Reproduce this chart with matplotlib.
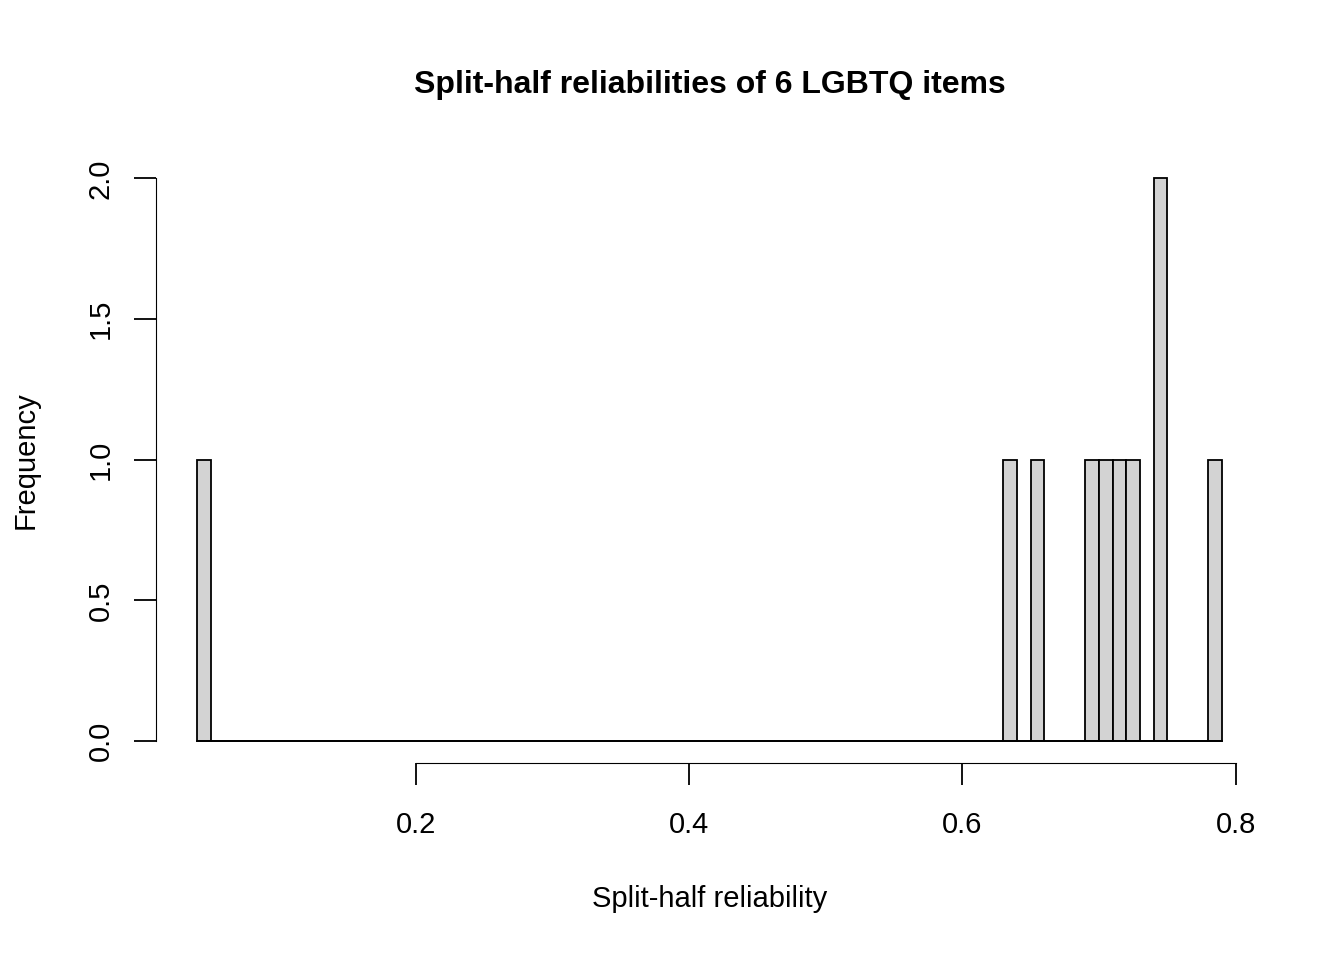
import numpy as np
import matplotlib
matplotlib.use("Agg")
import matplotlib.pyplot as plt

plt.rcParams['font.family'] = ['Liberation Sans', 'DejaVu Sans']

# split-half reliabilities (read from the bins)
reliab = [0.045, 0.635, 0.655, 0.695, 0.705, 0.715, 0.725, 0.745, 0.745, 0.785]
bins = np.round(np.arange(0.04, 0.795, 0.01), 2)
xticks = [0.2, 0.4, 0.6, 0.8]
yticks = [0.0, 0.5, 1.0, 1.5, 2.0]

fig = plt.figure(figsize=(13.44, 9.6), dpi=100)
ax = fig.add_axes([0.1163, 0.2047, 0.9397 - 0.1163, 0.8375 - 0.2047])
ax.hist(reliab, bins=bins, color="#d3d3d3", edgecolor="black", linewidth=1.3)
ax.plot([bins[0], bins[-1]], [0, 0], color="black", lw=1.3)

ax.set_xlim(0.01, 0.82)
ax.set_ylim(-0.08, 2.08)
for s in ["top", "right"]:
    ax.spines[s].set_visible(False)
ax.spines["bottom"].set_bounds(0.2, 0.8)
ax.spines["left"].set_bounds(0, 2)
ax.set_xticks(xticks)
ax.set_xticklabels([f"{t:.1f}" for t in xticks])
ax.set_yticks(yticks)
ax.set_yticklabels([f"{t:.1f}" for t in yticks], rotation=90, va="center")
ax.tick_params(length=16, width=1.3, labelsize=21)
ax.tick_params(axis="x", pad=18)
ax.tick_params(axis="y", pad=14)

ax.set_xlabel("Split-half reliability", fontsize=21, labelpad=33)
ax.set_ylabel("Frequency", fontsize=21, labelpad=34)
ax.set_title("Split-half reliabilities of 6 LGBTQ items", fontsize=23,
             fontweight="bold", pad=45)

fig.savefig("out.png", dpi=100)
